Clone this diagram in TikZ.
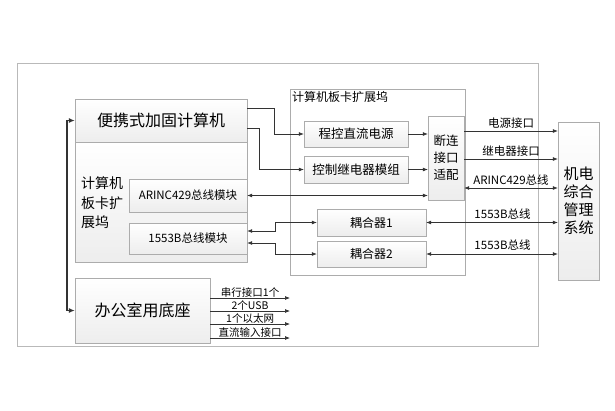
\documentclass[tikz,border=0pt]{standalone}
\usepackage{fontspec}
\setmainfont{Noto Sans CJK SC}
\usepackage{tikz}
\usetikzlibrary{arrows.meta,calc}

\tikzset{
  box/.style={draw=gray!65, top color=white, bottom color=gray!14, rectangle, inner sep=0pt},
  link/.style={draw=black!80, line width=0.7pt, -{Latex[length=5pt,width=4pt]}},
  dlink/.style={link, {Latex[length=5pt,width=4pt]}-{Latex[length=5pt,width=4pt]}},
  lbl/.style={font=\fontsize{11.5}{12}\selectfont, text=black, inner sep=1pt}
}

\begin{document}
\begin{tikzpicture}[x=1pt,y=-1pt]
        \useasboundingbox[fill=white] (0,0) rectangle (615,410);
        \draw[gray!55, line width=0.8pt] (17,63) rectangle (538,346);
        % left side
        \node[box, minimum width=172pt, minimum height=120pt] (dockl) at (161,202) {};
        \node[box, minimum width=172pt, minimum height=43pt, font=\fontsize{16}{18}\selectfont] (pc) at (161,120.5) {便携式加固计算机};
        \node[align=left, font=\fontsize{14}{19.5}\selectfont, inner sep=0pt] (dockltxt) at (102,203) {计算机\\板卡扩\\展坞};
        \node[box, minimum width=118pt, minimum height=33pt, font=\fontsize{11.5}{12}\selectfont] (arinc) at (188,195.5) {ARINC429总线模块};
        \node[box, minimum width=118pt, minimum height=31pt, font=\fontsize{11.5}{12}\selectfont] (mil) at (188,238.5) {1553B总线模块};
        \node[box, minimum width=135pt, minimum height=65pt, font=\fontsize{16}{18}\selectfont] (base) at (142.5,310.5) {办公室用底座};
        % right dock
        \node[draw=gray!65, fill=white, minimum width=175pt, minimum height=186pt] (dockr) at (377.5,182) {};
        \node[anchor=north west, font=\fontsize{12}{13}\selectfont, inner sep=2pt] (dockrtxt) at (dockr.north west) {计算机板卡扩展坞};
        \node[box, minimum width=104pt, minimum height=26pt, font=\fontsize{12.5}{13}\selectfont] (psu) at (356,134) {程控直流电源};
        \node[box, minimum width=104pt, minimum height=27pt, font=\fontsize{12.5}{13}\selectfont] (relay) at (356,169.5) {控制继电器模组};
        \node[box, minimum width=36pt, minimum height=84pt, align=center, font=\fontsize{12.5}{17}\selectfont] (adapt) at (446,158) {断连\\接口\\适配};
        \node[box, minimum width=109pt, minimum height=27pt, font=\fontsize{12}{13}\selectfont] (cp1) at (371.5,222.5) {耦合器1};
        \node[box, minimum width=109pt, minimum height=26pt, font=\fontsize{12}{13}\selectfont] (cp2) at (371.5,254) {耦合器2};
        \node[box, minimum width=41pt, minimum height=158pt, align=center, font=\fontsize{15}{18}\selectfont] (sys) at (578.5,201) {机电\\综合\\管理\\系统};
        % connectors
        \draw[dlink, line width=1.7pt, {Latex[length=6pt,width=5pt]}-{Latex[length=6pt,width=5pt]}] (pc.west) -- ++(-8,0) |- (base.west);
        \draw[link] ([yshift=12.5pt]pc.east) -- ++(27,0) |- (psu.west);
        \draw[link] ([yshift=-7.5pt]pc.east) -- ++(12,0) |- (relay.west);
        \draw[link] (psu) ++(52,0) -- (psu -| adapt.west);
        \draw[link] (relay) ++(52,0) -- (relay -| adapt.west);
        \draw[dlink] (arinc.east) -- (arinc -| adapt.west);
        \draw[dlink] ([yshift=7.5pt]mil.east) -- ++(28,0) |- (cp1.west);
        \draw[dlink] ([yshift=-4.5pt]mil.east) -- ++(28,0) |- (cp2.west);
        \coordinate (a1) at ([yshift=27pt]adapt.east);
        \coordinate (a2) at ([yshift=-1pt]adapt.east);
        \coordinate (a3) at ([yshift=-30pt]adapt.east);
        \draw[link] (a1) -- (a1 -| sys.west) node[lbl, midway, above=1pt] {电源接口};
        \draw[link] (a2) -- (a2 -| sys.west) node[lbl, midway, above=1pt] {继电器接口};
        \draw[dlink] (a3) -- (a3 -| sys.west) node[lbl, midway, above=1pt] {ARINC429总线};
        \draw[dlink] (cp1.east) -- (cp1 -| sys.west) node[lbl, pos=0.58, above=2pt] {1553B总线};
        \draw[dlink] (cp2.east) -- (cp2 -| sys.west) node[lbl, pos=0.58, above=2pt] {1553B总线};
        % base outputs
        \foreach \i/\yy/\txt in {1/298/串行接口1个, 2/311/2个USB, 3/324/1个以太网, 4/338/直流输入接口}{
          \coordinate (o\i) at (290,\yy);
          \draw[link] (base.east |- o\i) -- (o\i) node[midway, above, inner sep=0.5pt, font=\fontsize{10.5}{11}\selectfont] {\txt};
        }
      \end{tikzpicture}
\end{document}
